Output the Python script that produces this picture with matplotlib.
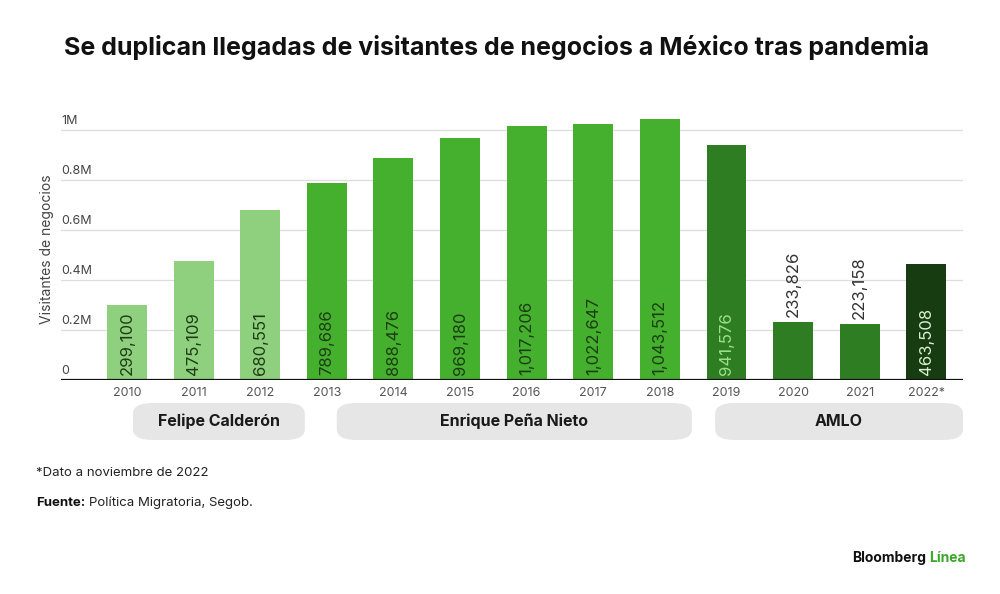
import numpy as np
import matplotlib.pyplot as plt
from matplotlib.patches import FancyBboxPatch
import matplotlib.transforms as mtransforms

plt.rcParams['font.family'] = ['Inter', 'DejaVu Sans']

years = ["2010", "2011", "2012", "2013", "2014", "2015", "2016", "2017", "2018",
         "2019", "2020", "2021", "2022*"]
visitantes = [299100, 475109, 680551, 789686, 888476, 969180, 1017206, 1022647,
              1043512, 941576, 233826, 223158, 463508]
presidentes = ["Felipe Calderón", "Enrique Peña Nieto", "AMLO"]
periodos = [(0.09, 2.67), (3.15, 8.48), (8.83, 12.55)]

c_claro = "#8fd07f"
c_medio = "#44b02e"
c_oscuro = "#2f7d23"
c_negro = "#183c11"
colores = [c_claro] * 3 + [c_medio] * 6 + [c_oscuro] * 3 + [c_negro]
col_txt = ["#1d3d14"] * 9 + ["#9be08a", "#333333", "#333333", "#d8f0d0"]

fig = plt.figure(figsize=(10, 5.94), dpi=100)
ax = fig.add_axes([0.061, 0.3603, 0.902, 0.4419])
x = np.arange(len(years))
ax.bar(x, visitantes, width=0.6, color=colores, zorder=3)
ax.set_xlim(-0.99, 12.55)
ax.set_ylim(0, 1050000)

for i, v in enumerate(visitantes):
    s = f"{v:,}"
    if v < 300000 and i >= 10:
        ax.text(i, v + 20000, s, rotation=90, ha="center", va="bottom",
                fontsize=12, color=col_txt[i], zorder=4)
    else:
        ax.text(i, 20000, s, rotation=90, ha="center", va="bottom",
                fontsize=12, color=col_txt[i], zorder=4)

ticks = [0, 200000, 400000, 600000, 800000, 1000000]
tick_txt = ["0", "0.2M", "0.4M", "0.6M", "0.8M", "1M"]
for t, s in zip(ticks, tick_txt):
    if t > 0:
        ax.axhline(t, color="#dddddd", lw=0.9, zorder=1)
    ax.text(-0.99, t + 12000, s, ha="left", va="bottom", fontsize=9,
            color="#444444")
ax.axhline(0, color="#111111", lw=1.6, zorder=5)

ax.set_xticks(x)
ax.set_xticklabels(years, fontsize=9, color="#555555")
ax.tick_params(axis="x", length=0, pad=5)
ax.set_yticks([])
for sp in ax.spines.values():
    sp.set_visible(False)
ax.set_ylabel("Visitantes de negocios", fontsize=10, color="#444444")
ax.yaxis.set_label_coords(-0.008, 0.5)

trans = mtransforms.blended_transform_factory(ax.transData, fig.transFigure)
for nombre, (a, b) in zip(presidentes, periodos):
    caja = FancyBboxPatch((a, 1 - 440 / 594), b - a, 37 / 594,
                          boxstyle="round,pad=0,rounding_size=0.3",
                          mutation_aspect=0.06,
                          transform=trans, facecolor="#e6e6e6",
                          edgecolor="none", clip_on=False)
    fig.add_artist(caja)
    fig.text((a + b) / 2, 1 - 421.5 / 594, nombre, transform=trans,
             ha="center", va="center", fontsize=11.5, fontweight="bold",
             color="#1a1a1a")

fig.text(0.497, 1 - 48 / 594,
         "Se duplican llegadas de visitantes de negocios a México tras pandemia",
         ha="center", va="center", fontsize=18, fontweight="bold",
         color="#111111")
fig.text(0.036, 1 - 473 / 594, "*Dato a noviembre de 2022", ha="left",
         va="center", fontsize=9.5, color="#222222")
fig.text(0.036, 1 - 503 / 594, "Fuente:", ha="left", va="center",
         fontsize=9.5, fontweight="bold", color="#111111")
fig.text(0.089, 1 - 503 / 594, "Política Migratoria, Segob.", ha="left",
         va="center", fontsize=9.5, color="#222222")
fig.text(0.926, 1 - 558 / 594, "Bloomberg", ha="right", va="center",
         fontsize=10, fontweight="bold", color="#111111")
fig.text(0.929, 1 - 558 / 594, "Línea", ha="left", va="center",
         fontsize=10, fontweight="bold", color="#3aa62a")

fig.savefig("out.png", dpi=100, facecolor="white")
